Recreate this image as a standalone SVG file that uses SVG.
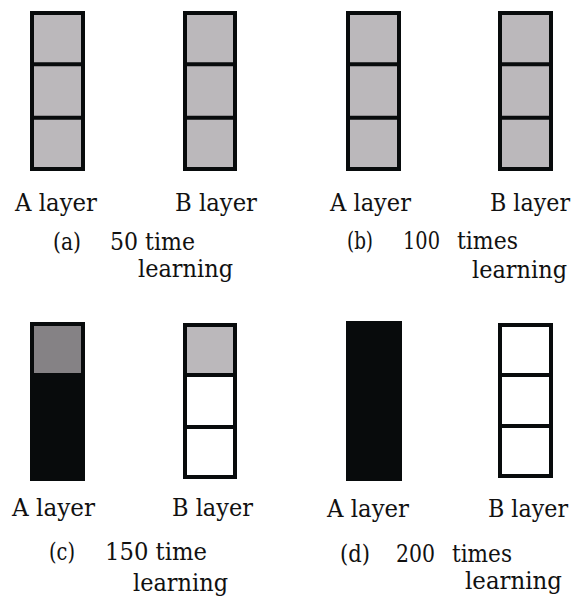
<svg xmlns="http://www.w3.org/2000/svg" width="588" height="596" viewBox="0 0 588 596">
<style>
.cell{fill:#bbb8bb;stroke:#080b0c;stroke-width:4}
.empty{fill:#ffffff;stroke:#080b0c;stroke-width:4}
.div{stroke:#080b0c;stroke-width:4}
.solid{fill:#080b0c}
.mid{fill:#858285}
text{font-family:"DejaVu Serif","Liberation Serif",serif;font-size:24px;fill:#111}
</style>
<rect width="588" height="596" fill="#ffffff"/>
<g id="panel-a">
  <g id="a-A">
    <rect class="cell" x="32" y="13" width="51" height="156"/>
    <line class="div" x1="32" y1="64.3" x2="83" y2="64.3"/>
    <line class="div" x1="32" y1="117.7" x2="83" y2="117.7"/>
  </g>
  <g id="a-B">
    <rect class="cell" x="185" y="13" width="50" height="156"/>
    <line class="div" x1="185" y1="64.3" x2="235" y2="64.3"/>
    <line class="div" x1="185" y1="117.7" x2="235" y2="117.7"/>
  </g>
  <text x="15" y="211" textLength="82" lengthAdjust="spacingAndGlyphs">A layer</text>
  <text x="175" y="211" textLength="82" lengthAdjust="spacingAndGlyphs">B layer</text>
  <text x="53" y="250" textLength="28" lengthAdjust="spacingAndGlyphs">(a)</text>
  <text x="110" y="250" textLength="85" lengthAdjust="spacingAndGlyphs">50 time</text>
  <text x="138" y="277" textLength="95" lengthAdjust="spacingAndGlyphs">learning</text>
</g>
<g id="panel-b">
  <g id="b-A">
    <rect class="cell" x="348" y="13" width="51" height="156"/>
    <line class="div" x1="348" y1="64.3" x2="399" y2="64.3"/>
    <line class="div" x1="348" y1="117.7" x2="399" y2="117.7"/>
  </g>
  <g id="b-B">
    <rect class="cell" x="500" y="13" width="51" height="156"/>
    <line class="div" x1="500" y1="64.3" x2="551" y2="64.3"/>
    <line class="div" x1="500" y1="117.7" x2="551" y2="117.7"/>
  </g>
  <text x="330" y="211" textLength="81" lengthAdjust="spacingAndGlyphs">A layer</text>
  <text x="490" y="211" textLength="80" lengthAdjust="spacingAndGlyphs">B layer</text>
  <text x="347" y="249" textLength="26" lengthAdjust="spacingAndGlyphs">(b)</text>
  <text y="249"><tspan x="403" textLength="37" lengthAdjust="spacingAndGlyphs">100</tspan> <tspan x="457" textLength="61" lengthAdjust="spacingAndGlyphs">times</tspan></text>
  <text x="472" y="278" textLength="95" lengthAdjust="spacingAndGlyphs">learning</text>
</g>
<g id="panel-c">
  <g id="c-A">
    <rect class="solid" x="30" y="322" width="55" height="159"/>
    <rect class="mid" x="34" y="326" width="47" height="47"/>
  </g>
  <g id="c-B">
    <rect class="empty" x="185" y="325" width="50" height="152"/>
    <rect class="cell" x="185" y="325" width="50" height="50"/>
    <line class="div" x1="185" y1="427" x2="235" y2="427"/>
  </g>
  <text x="12" y="516" textLength="83" lengthAdjust="spacingAndGlyphs">A layer</text>
  <text x="172" y="516" textLength="81" lengthAdjust="spacingAndGlyphs">B layer</text>
  <text x="49" y="560" textLength="26" lengthAdjust="spacingAndGlyphs">(c)</text>
  <text x="105" y="560" textLength="102" lengthAdjust="spacingAndGlyphs">150 time</text>
  <text x="133" y="591" textLength="95" lengthAdjust="spacingAndGlyphs">learning</text>
</g>
<g id="panel-d">
  <g id="d-A">
    <rect class="solid" x="346" y="321" width="56" height="160"/>
  </g>
  <g id="d-B">
    <rect class="empty" x="500" y="325" width="51" height="151"/>
    <line class="div" x1="500" y1="375" x2="551" y2="375"/>
    <line class="div" x1="500" y1="426" x2="551" y2="426"/>
  </g>
  <text x="327" y="517" textLength="82" lengthAdjust="spacingAndGlyphs">A layer</text>
  <text x="488" y="517" textLength="80" lengthAdjust="spacingAndGlyphs">B layer</text>
  <text x="340" y="562" textLength="30" lengthAdjust="spacingAndGlyphs">(d)</text>
  <text y="562"><tspan x="396" textLength="39" lengthAdjust="spacingAndGlyphs">200</tspan> <tspan x="452" textLength="60" lengthAdjust="spacingAndGlyphs">times</tspan></text>
  <text x="465" y="589" textLength="97" lengthAdjust="spacingAndGlyphs">learning</text>
</g>
</svg>
